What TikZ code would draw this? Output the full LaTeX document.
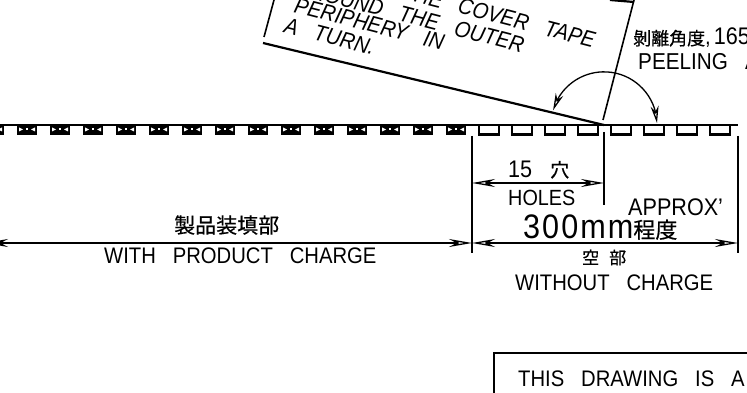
\documentclass[tikz,border=0pt]{standalone}
\usepackage{fontspec}
\setmainfont{Liberation Sans}[WordSpace=3,FakeStretch=.9]
\newfontfamily\cjk{Noto Sans CJK JP}[FakeBold=.5]
\usetikzlibrary{arrows.meta,bending}
\begin{document}
\begin{tikzpicture}[x=1pt,y=1pt,>={Stealth[open,length=23pt,width=8pt]},
  tape/.style={line width=2.2pt},
  dim/.style={line width=1.3pt},
  peelarrow/.style={{Stealth[open,length=17pt,width=8pt]}-{Stealth[open,length=17pt,width=8pt]}},
  txt/.style={anchor=base west,inner sep=0pt,font=\fontsize{22.5}{22.5}\selectfont},
  tilted/.style={inner sep=0pt,rotate=-14.5,font=\fontsize{22.5}{22.5}\selectfont\itshape}]
\useasboundingbox (0,0) rectangle (747,-393);
\clip (0,0) rectangle (747,-393);
\foreach \x in {-16,17,50,83,116,149,182,215,248,281,314,347,380,413,446}{
  \fill (\x,-125) rectangle (\x+20,-135.5);
  \fill[white] (\x+2,-127.5)--(\x+6,-129.5)--(\x+2,-131.5)--cycle;
  \fill[white] (\x+9,-128.5) rectangle (\x+11,-130.5);
  \fill[white] (\x+18,-127.5)--(\x+14,-129.5)--(\x+18,-131.5)--cycle;
}
\foreach \x in {479,512,545,578,611,644,677,710}
  \draw[tape] (\x,-125)--(\x,-134.5)--(\x+20,-134.5)--(\x+20,-125);
\coordinate (tapeL) at (-5,-125);
\coordinate (tapeR) at (738,-125);
\draw[tape] (tapeL)--(tapeR);
\coordinate (peel) at (604,-125);
\coordinate (coverL) at (263,-43);
\draw[tape] (coverL)--(peel);
\draw[line width=1.6pt] (264,-37)--(274,0);
\draw[line width=1.6pt] (603,-120)--(634,0);
\draw[tape] (610,0)--(634,-2);
\draw[dim,peelarrow] (657,-123) arc[start angle=2,end angle=164,radius=53];
\node[tilted,anchor=base east] (coverA) at (593,-48) {THE COVER TAPE};
\node[tilted,anchor=base east] (coverB) at (522,-53) {AROUND THE OUTER};
\node[tilted,anchor=base west] (coverC) at (293,-12) {PERIPHERY IN};
\node[tilted,anchor=base west] (coverD) at (283,-32) {A TURN.};
\node[txt] (angle) at (633,-45) {{\cjk\fontsize{18}{18}\selectfont 剝離角度},\hspace{3pt}\fontsize{24}{24}\selectfont 165};
\node[txt,font=\fontsize{23}{23}\selectfont] (peeling) at (638,-70) {PEELING A};
\coordinate (extA) at (472,-136);
\coordinate (extAb) at (472,-253);
\coordinate (extB) at (604,-132);
\coordinate (extBb) at (604,-205);
\coordinate (extC) at (738,-136);
\coordinate (extCb) at (738,-253);
\draw[dim] (extA)--(extAb);
\draw[dim] (extB)--(extBb);
\draw[dim] (extC)--(extCb);
\coordinate (hA) at (472,-183);
\coordinate (hB) at (604,-183);
\draw[dim,<->] (hA)--(hB);
\coordinate (wL) at (-15,-243);
\coordinate (wA) at (472,-243);
\coordinate (wC) at (738,-243);
\draw[dim,<->] (wL)--(wA);
\draw[dim,<->] (wA)--(wC);
\node[txt,font=\fontsize{24}{24}\selectfont] (holesN) at (508,-177) {15 {\cjk\fontsize{19}{19}\selectfont 穴}};
\node[txt,font=\fontsize{22}{22}\selectfont] (holes) at (508,-205) {HOLES};
\node[txt,font=\fontsize{24}{24}\selectfont] (approx) at (628,-215) {APPROX'};
\node[txt,font=\fontsize{34}{34}\selectfont] (len) at (523,-238) {\addfontfeature{LetterSpace=6}300mm{\cjk\fontsize{22}{22}\selectfont 程度}};
\node[txt] (withJ) at (174,-233) {\cjk\fontsize{21}{21}\selectfont 製品装填部};
\node[txt] (with) at (104,-263) {WITH PRODUCT CHARGE};
\node[txt] (withoutJ) at (582,-264) {\cjk\fontsize{17}{17}\selectfont 空\hspace{10pt}部};
\node[txt] (without) at (515,-290) {WITHOUT CHARGE};
\draw[tape] (494,-393)--(494,-353)--(747,-353);
\node[txt] (note) at (518,-386) {THIS DRAWING IS A};
\end{tikzpicture}
\end{document}
